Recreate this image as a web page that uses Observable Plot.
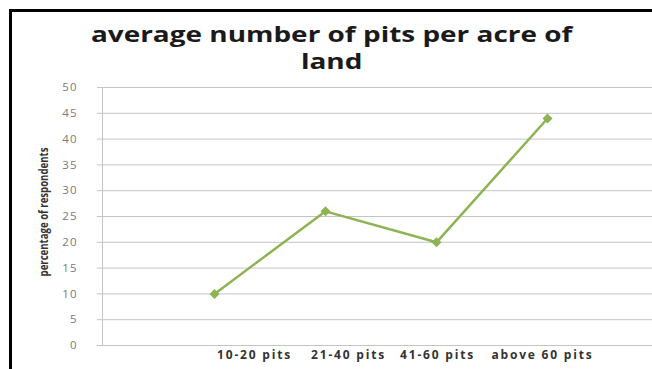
<!DOCTYPE html>
<html>
<head>
<meta charset="utf-8">
<script src="https://cdn.jsdelivr.net/npm/d3@7"></script>
<script src="https://cdn.jsdelivr.net/npm/@observablehq/plot@0.6"></script>
<style>
  html, body { margin: 0; padding: 0; background: #fff; }
  #wrap { position: relative; width: 652px; height: 369px; overflow: hidden; background: #fff; }
  #border { position: absolute; left: 9px; top: 9px; width: 660px; height: 400px; border-left: 3px solid #000; border-top: 3px solid #000; box-sizing: border-box; }
  .title { position: absolute; left: 11px; width: 641px; text-align: center; font-family: "Open Sans", sans-serif; font-weight: 700; font-size: 22px; line-height: 24px; height: 24px; color: #1a1a1a; transform: scaleX(1.27); transform-origin: 320px 0; }
  #t1 { top: 21px; }
  #t2 { top: 48px; }
  #ylab { position: absolute; left: 43px; top: 212px; transform: translate(-50%, -50%) rotate(-90deg) scaleX(0.8); white-space: nowrap; font-family: "Open Sans", sans-serif; font-size: 12px; font-weight: 700; color: #333; }
  #chart { position: absolute; left: 0; top: 0; }
  #chart svg g[aria-label="x-axis tick label"] text { letter-spacing: 1.8px; }
  #chart svg g[aria-label="y-axis tick label"] text { letter-spacing: 1px; }
</style>
</head>
<body>
<div id="wrap">
  <div id="chart"></div>
  <div id="border"></div>
  <div class="title" id="t1">average number of pits per acre of</div>
  <div class="title" id="t2">land</div>
  <div id="ylab">percentage of respondents</div>
</div>
<script>
const categories = ["10-20 pits", "21-40 pits", "41-60 pits", "above 60 pits"];
const values = [10, 26, 20, 44];
const yTicks = [0, 5, 10, 15, 20, 25, 30, 35, 40, 45, 50];

const data = categories.map((c, i) => ({cat: c, v: values[i]}));

const xLabelStyle = {tickSize: 0, tickPadding: 5, label: null, fontSize: 12, fontWeight: 700, fill: "#333", fontFamily: "Open Sans, sans-serif"};

const chart = Plot.plot({
  width: 652,
  height: 369,
  marginLeft: 102,
  marginRight: 0,
  marginTop: 87,
  marginBottom: 24,
  style: {background: "transparent"},
  x: {type: "point", domain: categories, range: [213, 547], padding: 0},
  y: {domain: [0, 50]},
  marks: [
    Plot.gridY(yTicks, {stroke: "#c4c4c4", strokeOpacity: 1, strokeWidth: 1}),
    Plot.frame({anchor: "left", stroke: "#c4c4c4"}),
    Plot.axisY(yTicks, {tickSize: 5, stroke: "#c4c4c4", tickPadding: 20, label: null, fontSize: 11.5, fill: "#7a7a7a", fontFamily: "Open Sans, sans-serif"}),
    Plot.axisX([categories[0]], {...xLabelStyle, dx: 40}),
    Plot.axisX([categories[1]], {...xLabelStyle, dx: 23}),
    Plot.axisX([categories[2]], {...xLabelStyle, dx: 1}),
    Plot.axisX([categories[3]], {...xLabelStyle, dx: -5}),
    Plot.line(data, {x: "cat", y: "v", stroke: "#8db352", strokeWidth: 2.5}),
    Plot.dot(data, {x: "cat", y: "v", symbol: "diamond2", r: 4.5, fill: "#8db352", stroke: "none"})
  ]
});
document.getElementById("chart").appendChild(chart);
</script>
</body>
</html>
